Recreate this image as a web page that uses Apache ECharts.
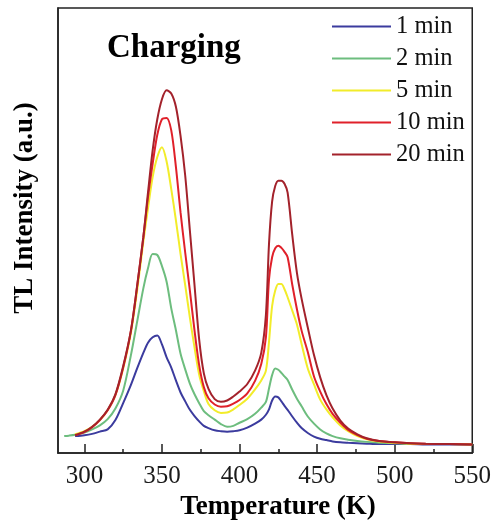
<!DOCTYPE html>
<html>
<head>
<meta charset="utf-8">
<script src="https://cdn.jsdelivr.net/npm/echarts@6/dist/echarts.min.js"></script>
<style>html,body{margin:0;padding:0;background:#fff;}#chart{width:494px;height:524px;}</style>
</head>
<body>
<div id="chart"></div>
<script>
// Temperature grid (K)
const temps = [287,290,294,300,305,310,315,320,325,330,334,338,341,344,347,350,353,356,359,362,365,368,371,374,377,380,384,388,392,396,400,405,410,414,417,419,421,423,425,427,429,431,434,437,440,444,448,452,456,460,465,470,476,482,490,500,510,520,535,550];
// TL intensity (a.u.) per charging time
const min1  = [null,null,3.8,4.0,4.3,4.8,5.3,7.4,11.2,15.3,19,22.5,24.8,26,26.4,24.4,21.5,19.2,16.3,13.6,11.6,9.7,8.3,7.1,6.1,5.6,5.1,4.9,4.8,4.9,5.1,5.7,6.6,7.5,8.6,9.8,11.8,12.7,12.5,11.6,10.6,9.7,8.2,6.8,5.6,4.5,3.7,3.2,2.9,2.6,2.4,2.3,2.2,2.1,2.0,2.0,2.0,1.9,1.9,1.9];
const min2  = [3.8,3.9,4.1,4.6,5.3,6.2,7.6,10,14,22,29.5,37,41.5,44.7,44.5,42,38.5,32.5,27.6,22.3,18.8,15.6,13.2,11.2,9.4,8.5,7.5,6.5,5.9,6.1,6.8,7.6,8.8,10.2,11.5,14.5,17.5,19,18.7,18,17.2,16.4,14.2,12.2,10.5,8.2,6.6,5.3,4.4,3.8,3.3,3.0,2.7,2.5,2.3,2.2,2.1,2.0,2.0,1.9];
const min5  = [null,null,4.2,4.9,5.9,7.4,9.6,13,19,27,36.5,47.5,55,62,66.5,68.7,65.5,59.3,52.3,44.7,37.7,30.4,23.7,17.6,13.9,11,9.6,9.0,9.1,9.8,10.8,12.2,14.3,16.3,18.5,25,33,36.5,38,38,36.8,35,32,28.9,24.5,19,15.4,12,9.8,8.0,6.2,4.9,3.8,3.1,2.6,2.3,2.1,2.0,2.0,1.9];
const min10 = [null,null,4.0,4.7,5.8,7.4,9.6,13,19.2,27.5,37.5,48.5,57.5,65,71.5,75,75.3,72.5,64.3,54,45,36.5,27.5,19.7,14.8,12.3,10.9,10.4,10.5,11.1,11.9,13.4,16.2,20,26,39,44,46,46.6,46.1,45.2,44,37.8,32.3,27.5,22.7,17.2,13.8,11,8.8,6.8,5.2,4.0,3.2,2.7,2.4,2.2,2.1,2.0,1.9];
const min20 = [null,null,4.0,4.8,5.9,7.5,9.7,13.2,19.5,27.5,37.5,48.5,58.5,68,75,79.5,81.5,80.8,77.8,71.2,62.3,50,37.7,25.5,17.9,14.4,12.1,11.5,11.8,12.7,13.8,15.5,18.5,22.5,31,47,56.5,60,61.2,61.2,60.5,58.5,49,40.5,34.7,28.2,22,17,13,10,7.3,5.5,4.2,3.3,2.7,2.4,2.2,2.1,2.0,1.9];
const seriesNames = ['1 min','2 min','5 min','10 min','20 min'];
const seriesVals = [min1, min2, min5, min10, min20];
const colors = ['#3b3b9e','#6dbd7e','#f2ec2a','#e0202a','#a3222b'];
const majorTicks = [300,350,400,450,500,550];
const minorTicks = [325,375,425,475,525];

const chart = echarts.init(document.getElementById('chart'), null, {renderer:'canvas'});
const serif = '"Liberation Serif", "Times New Roman", serif';

const series = seriesNames.map((name, i) => ({
  name: name,
  type: 'line',
  xAxisIndex: 0,
  symbol: 'none',
  smooth: 0.3,
  lineStyle: {color: colors[i], width: 2},
  itemStyle: {color: colors[i]},
  data: temps.map((t, k) => [t, seriesVals[i][k]]).filter(p => p[1] !== null)
}));

chart.setOption({
  animation: false,
  backgroundColor: '#fff',
  grid: {left: 58, right: 16, top: 8, bottom: 71, show: true, borderColor: '#222', borderWidth: 1.5, backgroundColor: 'transparent'},
  xAxis: [{
    type: 'value', min: 283, max: 550,
    axisLine: {show: true, lineStyle: {color: '#222', width: 1.5}},
    axisTick: {show: true, inside: true, length: 9, customValues: majorTicks, lineStyle: {color: '#222', width: 1.5}},
    axisLabel: {show: true, customValues: majorTicks, fontSize: 25, fontFamily: serif, color: '#1a1a1a', margin: 11},
    splitLine: {show: false}
  }, {
    type: 'value', min: 283, max: 550, position: 'bottom',
    axisLine: {show: false},
    axisTick: {show: true, inside: true, length: 4, customValues: minorTicks, lineStyle: {color: '#222', width: 1.5}},
    axisLabel: {show: false},
    splitLine: {show: false}
  }],
  yAxis: {
    type: 'value', min: 0, max: 100,
    axisLine: {show: true, lineStyle: {color: '#222', width: 1.5}},
    axisTick: {show: false}, axisLabel: {show: false}, splitLine: {show: false}
  },
  legend: {
    orient: 'vertical', left: 327, top: 9,
    icon: 'path://M0,0L59,0L59,2.2L0,2.2Z',
    itemWidth: 59, itemHeight: 20, itemGap: 7,
    textStyle: {fontSize: 24.5, fontFamily: serif, color: '#111', lineHeight: 20},
    data: seriesNames
  },
  graphic: [
    {type: 'text', x: 107, y: 48, style: {text: 'Charging', font: 'bold 33px ' + serif, fill: '#000', textAlign: 'left', textVerticalAlign: 'middle'}},
    {type: 'text', x: 25, y: 208, rotation: Math.PI / 2, style: {text: 'TL Intensity (a.u.)', font: 'bold 27px ' + serif, fill: '#000', textAlign: 'center', textVerticalAlign: 'middle'}},
    {type: 'text', x: 278, y: 507, style: {text: 'Temperature (K)', font: 'bold 27px ' + serif, fill: '#000', textAlign: 'center', textVerticalAlign: 'middle'}}
  ],
  series: series
});
</script>
</body>
</html>
